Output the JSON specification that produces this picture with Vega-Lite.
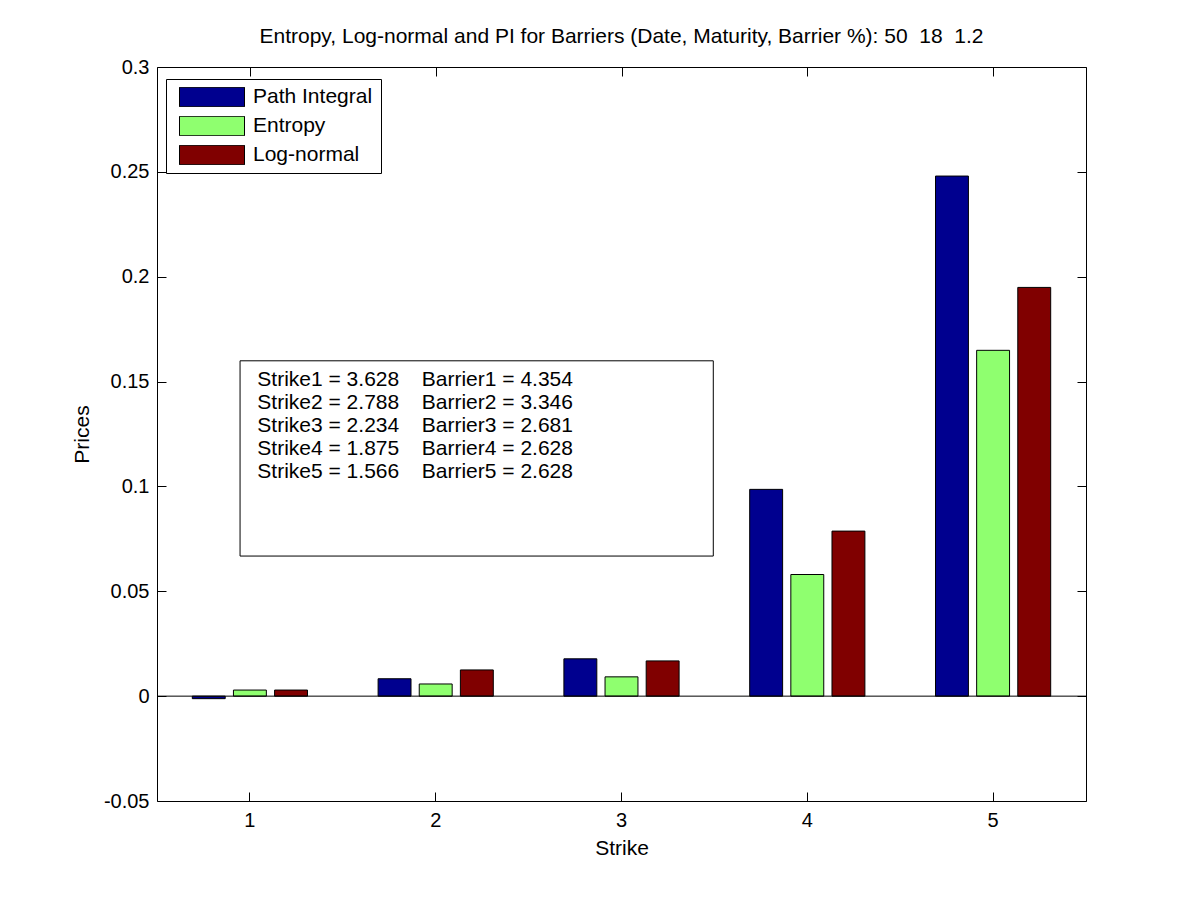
{
  "$schema": "https://vega.github.io/schema/vega-lite/v6.json",
  "width": 929,
  "height": 734,
  "autosize": "none",
  "padding": {"left": 157, "top": 67, "right": 114, "bottom": 99},
  "background": "white",
  "title": {
    "text": "Entropy, Log-normal and PI for Barriers (Date, Maturity, Barrier %): 50\u00a0 18\u00a0 1.2",
    "fontSize": 21,
    "fontWeight": "normal",
    "font": "Liberation Sans",
    "color": "black",
    "anchor": "middle",
    "offset": 10
  },
  "config": {
    "view": {"stroke": "black", "strokeWidth": 1},
    "font": "Liberation Sans",
    "axis": {
      "grid": false,
      "domain": false,
      "tickColor": "black",
      "tickSize": -9,
      "labelColor": "black",
      "labelFont": "Liberation Sans",
      "labelFontSize": 20,
      "titleColor": "black",
      "titleFont": "Liberation Sans",
      "titleFontSize": 21,
      "titleFontWeight": "normal"
    }
  },
  "resolve": {
    "scale": {"x": "independent"},
    "axis": {"x": "independent", "y": "independent"}
  },
  "layer": [
    {
      "data": {
        "values": [
          {"strike": 1, "series": "Path Integral", "price": -0.0012},
          {"strike": 1, "series": "Entropy", "price": 0.0029},
          {"strike": 1, "series": "Log-normal", "price": 0.0029},
          {"strike": 2, "series": "Path Integral", "price": 0.0083},
          {"strike": 2, "series": "Entropy", "price": 0.0058},
          {"strike": 2, "series": "Log-normal", "price": 0.0125},
          {"strike": 3, "series": "Path Integral", "price": 0.0178},
          {"strike": 3, "series": "Entropy", "price": 0.0092},
          {"strike": 3, "series": "Log-normal", "price": 0.0168},
          {"strike": 4, "series": "Path Integral", "price": 0.0986},
          {"strike": 4, "series": "Entropy", "price": 0.058},
          {"strike": 4, "series": "Log-normal", "price": 0.0787},
          {"strike": 5, "series": "Path Integral", "price": 0.248},
          {"strike": 5, "series": "Entropy", "price": 0.1649},
          {"strike": 5, "series": "Log-normal", "price": 0.1949}
        ]
      },
      "mark": {"type": "bar", "stroke": "black", "strokeWidth": 1, "opacity": 1},
      "encoding": {
        "x": {
          "field": "strike",
          "type": "ordinal",
          "title": "Strike",
          "scale": {"paddingInner": 0.38, "paddingOuter": 0.19},
          "axis": {"labelAngle": 0, "labelPadding": 18, "titlePadding": 7}
        },
        "xOffset": {
          "field": "series",
          "type": "nominal",
          "sort": ["Path Integral", "Entropy", "Log-normal"],
          "scale": {"paddingInner": 0.2, "paddingOuter": 0}
        },
        "y": {
          "field": "price",
          "type": "quantitative",
          "title": "Prices",
          "scale": {"domain": [-0.05, 0.3], "nice": false, "zero": false},
          "axis": {
            "values": [-0.05, 0, 0.05, 0.1, 0.15, 0.2, 0.25, 0.3],
            "labelExpr": "datum.value < 0 ? '-' + format(-datum.value, '~g') : format(datum.value, '~g')",
            "labelPadding": 17,
            "titlePadding": 11
          }
        },
        "color": {
          "field": "series",
          "type": "nominal",
          "scale": {
            "domain": ["Path Integral", "Entropy", "Log-normal"],
            "range": ["#00008F", "#8FFF6F", "#800000"]
          },
          "legend": {
            "title": null,
            "orient": "none",
            "legendX": 9,
            "legendY": 12,
            "direction": "vertical",
            "strokeColor": "black",
            "fillColor": "white",
            "padding": 8,
            "symbolType": "M-1,-0.3H1V0.3H-1Z",
            "symbolSize": 4225,
            "symbolStrokeColor": "black",
            "symbolStrokeWidth": 1,
            "symbolOpacity": 1,
            "symbolOffset": 5,
            "clipHeight": 20,
            "rowPadding": 8,
            "labelOffset": 8,
            "labelFontSize": 21,
            "labelFont": "Liberation Sans",
            "labelColor": "black",
            "labelLimit": 300
          }
        }
      }
    },
    {
      "data": {"values": [{"price": 0}]},
      "mark": {"type": "rule", "color": "black", "strokeWidth": 1},
      "encoding": {
        "y": {
          "field": "price",
          "type": "quantitative",
          "axis": {"orient": "right", "labels": false, "title": null, "values": [-0.05, 0, 0.05, 0.1, 0.15, 0.2, 0.25, 0.3]}
        }
      }
    },
    {
      "data": {"values": [{"x1": 0.947, "x2": 3.494, "y1": 0.0668, "y2": 0.1599}]},
      "mark": {"type": "rect", "fill": "white", "stroke": "black", "strokeWidth": 1},
      "encoding": {
        "x": {
          "field": "x1",
          "type": "quantitative",
          "scale": {"domain": [0.5, 5.5], "nice": false, "zero": false},
          "axis": {"orient": "top", "labels": false, "title": null, "values": [1, 2, 3, 4, 5]}
        },
        "x2": {"field": "x2"},
        "y": {"field": "y1", "type": "quantitative", "axis": null},
        "y2": {"field": "y2"}
      }
    },
    {
      "data": {
        "values": [
          {"col": 1.04, "row": 0.148, "label": "Strike1 = 3.628"},
          {"col": 1.04, "row": 0.137, "label": "Strike2 = 2.788"},
          {"col": 1.04, "row": 0.126, "label": "Strike3 = 2.234"},
          {"col": 1.04, "row": 0.1151, "label": "Strike4 = 1.875"},
          {"col": 1.04, "row": 0.1041, "label": "Strike5 = 1.566"},
          {"col": 1.925, "row": 0.148, "label": "Barrier1 = 4.354"},
          {"col": 1.925, "row": 0.137, "label": "Barrier2 = 3.346"},
          {"col": 1.925, "row": 0.126, "label": "Barrier3 = 2.681"},
          {"col": 1.925, "row": 0.1151, "label": "Barrier4 = 2.628"},
          {"col": 1.925, "row": 0.1041, "label": "Barrier5 = 2.628"}
        ]
      },
      "mark": {"type": "text", "align": "left", "baseline": "alphabetic", "fontSize": 21, "font": "Liberation Sans", "color": "black"},
      "encoding": {
        "x": {"field": "col", "type": "quantitative", "scale": {"domain": [0.5, 5.5], "nice": false, "zero": false}, "axis": null},
        "y": {"field": "row", "type": "quantitative", "axis": null},
        "text": {"field": "label"}
      }
    }
  ]
}
